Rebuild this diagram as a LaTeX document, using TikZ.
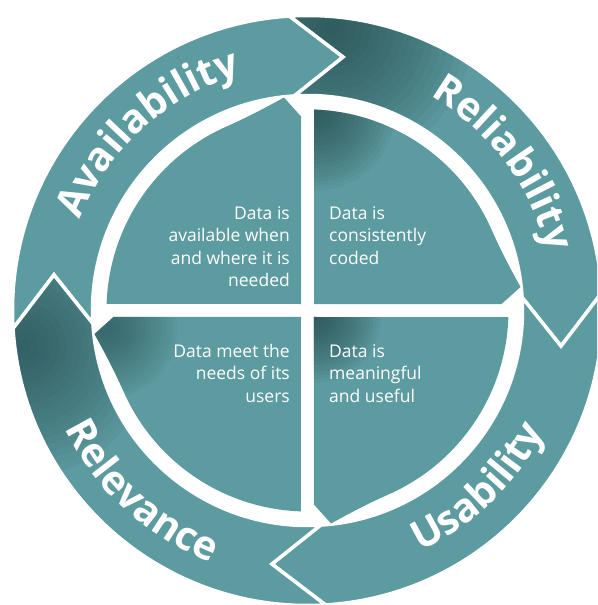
\documentclass[tikz,border=0pt]{standalone}
\usepackage{fontspec}
\setmainfont{Open Sans}
\usepackage{xcolor}
\usepackage{tikz}
\usetikzlibrary{decorations.text, positioning}

\definecolor{ring}{RGB}{92,155,160}
\definecolor{shadow}{RGB}{30,62,64}
\newcommand\bandfont{\fontsize{40}{48}\selectfont\bfseries}

\tikzset{
  band/.style={fill=ring, draw=white, line width=3.5pt, line join=miter},
  quad/.style={fill=ring},
  bandtext/.style={decoration={text along path, text align=center, text color=white, text={|\bandfont|#1}}, postaction={decorate}},
  note/.style={text=white, font=\fontsize{17.5}{22.5}\selectfont, inner sep=0pt},
  % soft dark patch, built from stacked see-through discs
  shade patch/.style args={#1/#2/#3/#4}{path picture={
    \foreach \j in {1,...,18} \fill[shadow, opacity=#4] (#1,#2) circle ({#3*\j/18});}}
}

\begin{document}
\begin{tikzpicture}[x=1pt, y=1pt]
\useasboundingbox (-307.5,-294.5) rectangle (289.5,310.5);
\clip (-307.5,-294.5) rectangle (289.5,310.5);

% outer ring: four arrows running clockwise
\foreach \k/\sx/\sy/\sr/\op in {0/0/0/1/0, 1/25/282/140/0.05, 2/0/0/1/0, 3/-284/-36/130/0.045} {
  \pgfmathsetmacro\t{183.5-90*\k}
  \pgfmathsetmacro\h{\t-90}
  \path[band, shade patch={\sx/\sy/\sr/\op}]
    (\t:295) arc[start angle=\t, end angle=\h, radius=295] -- ({\h-11.5}:256)
    -- (\h:215) arc[start angle=\h, end angle=\t, radius=215] -- ({\t-11.5}:256) -- cycle;
}

% inner quadrants, each ending in a barb at its clockwise end
\foreach \k/\sx/\sy/\sr/\op in {0/0/0/1/0, 1/8/200/80/0.05, 2/8/-7/65/0.05, 3/-200/-18/70/0.035} {
  \path[quad, shade patch={\sx/\sy/\sr/\op}]
    ({135-90*\k}:9.19) -- ({178.1-90*\k}:201)
    arc[start angle={178.1-90*\k}, end angle={114-90*\k}, radius=201]
    .. controls ({106-90*\k}:203) and ({101-90*\k}:208) .. ({96.3-90*\k}:214.3)
    -- ({91.9-90*\k}:194.1) -- cycle;
}

% ring labels
\path[bandtext=Availability] (172:245) arc[start angle=172, end angle=92, radius=245];
\path[bandtext=Reliability] (77:247) arc[start angle=77, end angle=-3, radius=247];
\path[bandtext=Usability] (-86:266) arc[start angle=-86, end angle=-6, radius=266];
\path[bandtext=Relevance] (187.5:270) arc[start angle=187.5, end angle=267.5, radius=270];

% quadrant texts
\node[note, anchor=north east, align=right] (availnote) at (-17.5,104.5) {Data is\\available when\\and where it is\\needed};
\node[note, anchor=north west, align=left] (relinote) at (21.5,104.5) {Data is\\consistently\\coded};
\node[note, anchor=north east, align=right] (relenote) at (-17.5,-33.5) {Data meet the\\needs of its\\users};
\node[note, anchor=north west, align=left] (usenote) at (21.5,-33.5) {Data is\\meaningful\\and useful};
\end{tikzpicture}
\end{document}
